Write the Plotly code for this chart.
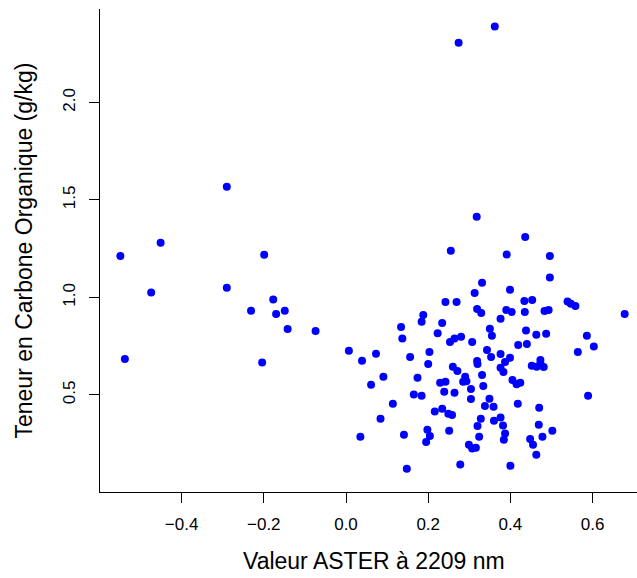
import plotly.graph_objects as go

# Values
aster_2209 = [
    -0.290, -0.451, -0.549, -0.199, -0.474, -0.290, -0.177, -0.231, -0.149, -0.170,
    -0.142, -0.074, -0.538, -0.204, 0.007,
    0.362, 0.274,
    0.318, 0.436, 0.255, 0.391, 0.496, 0.496, 0.331, 0.399, 0.313, 0.242,
    0.269, 0.434, 0.453, 0.539, 0.547, 0.558, 0.678, 0.319, 0.329, 0.390,
    0.403, 0.435, 0.483, 0.493, 0.188, 0.184, 0.234, 0.134, 0.376, 0.350,
    0.355, 0.223, 0.438, 0.463, 0.487, 0.586, 0.137,
    0.039, 0.073, 0.253, 0.264, 0.280, 0.307, 0.419, 0.440, 0.603, 0.564,
    0.156, 0.203, 0.200, 0.343, 0.353, 0.376, 0.399, 0.387, 0.319, 0.320,
    0.376, 0.383, 0.260, 0.271, 0.290, 0.285, 0.293, 0.331, 0.334, 0.304,
    0.304, 0.452, 0.464, 0.473, 0.473, 0.481, 0.405, 0.415, 0.424, 0.091,
    0.061, 0.174, 0.229, 0.242, 0.239, 0.264, 0.165, 0.184, 0.114, 0.349,
    0.338, 0.359, 0.418, 0.470, 0.589, 0.216, 0.234, 0.249, 0.258, 0.084,
    0.328, 0.320, 0.360, 0.376, 0.382, 0.387, 0.384, 0.469, 0.502, 0.478,
    0.448, 0.455, 0.463, 0.035, 0.141, 0.198, 0.204, 0.195, 0.251, 0.324,
    0.299, 0.307, 0.316, 0.278, 0.400, 0.148,
]
carbone_org = [
    1.568, 1.281, 1.213, 1.219, 1.025, 1.050, 0.989, 0.932, 0.932, 0.915,
    0.838, 0.828, 0.685, 0.666, 0.727,
    2.389, 2.306,
    1.414, 1.310, 1.240, 1.220, 1.213, 1.102, 1.076, 1.040, 1.023, 0.977,
    0.977, 0.982, 0.987, 0.979, 0.968, 0.956, 0.915, 0.941, 0.920, 0.936,
    0.926, 0.926, 0.931, 0.936, 0.910, 0.876, 0.869, 0.849, 0.891, 0.840,
    0.804, 0.816, 0.830, 0.809, 0.814, 0.804, 0.790,
    0.676, 0.712, 0.772, 0.789, 0.799, 0.772, 0.756, 0.762, 0.748, 0.720,
    0.695, 0.720, 0.659, 0.731, 0.695, 0.710, 0.691, 0.669, 0.674, 0.659,
    0.640, 0.618, 0.645, 0.623, 0.594, 0.568, 0.570, 0.603, 0.546, 0.531,
    0.479, 0.650, 0.645, 0.679, 0.662, 0.644, 0.577, 0.555, 0.563, 0.594,
    0.553, 0.589, 0.563, 0.568, 0.517, 0.512, 0.502, 0.496, 0.455, 0.481,
    0.444, 0.440, 0.455, 0.435, 0.496, 0.415, 0.430, 0.404, 0.397, 0.378,
    0.378, 0.341, 0.368, 0.384, 0.343, 0.302, 0.271, 0.348, 0.317, 0.286,
    0.274, 0.245, 0.194, 0.286, 0.296, 0.322, 0.290, 0.259, 0.317, 0.286,
    0.245, 0.225, 0.230, 0.143, 0.137, 0.122,
]

x_ticks = [-0.4, -0.2, 0.0, 0.2, 0.4, 0.6]
x_tick_labels = ["\u22120.4", "\u22120.2", "0.0", "0.2", "0.4", "0.6"]
y_ticks = [0.5, 1.0, 1.5, 2.0]
y_tick_labels = ["0.5", "1.0", "1.5", "2.0"]
x_title = "Valeur ASTER à 2209 nm"
y_title = "Teneur en Carbone Organique (g/kg)"

FONT = "Liberation Sans, Arial, Helvetica, sans-serif"

fig = go.Figure()
fig.add_trace(go.Scatter(
    x=aster_2209, y=carbone_org, mode="markers",
    marker=dict(color="#0000FF", size=8, line=dict(width=0)),
    showlegend=False, hoverinfo="x+y",
))

fig.update_layout(
    width=637, height=578,
    margin=dict(l=100, r=0, t=9, b=86, autoexpand=False),
    paper_bgcolor="white", plot_bgcolor="white",
    font=dict(family=FONT, color="black"),
    xaxis=dict(
        range=[-0.5985, 0.708], tickvals=x_ticks, ticktext=x_tick_labels,
        showgrid=False, zeroline=False, showline=True, linecolor="black", linewidth=1,
        ticks="outside", ticklen=10, tickwidth=1, tickcolor="black",
        tickfont=dict(size=17, family=FONT, color="black"),
        ticklabelstandoff=7,
    ),
    yaxis=dict(
        range=[0.0026, 2.479], tickvals=y_ticks, ticktext=y_tick_labels,
        showgrid=False, zeroline=False, showline=True, linecolor="black", linewidth=1,
        ticks="outside", ticklen=10, tickwidth=1, tickcolor="black",
        tickfont=dict(size=17, family=FONT, color="black"), tickangle=-90,
        ticklabelstandoff=7,
    ),
    annotations=[
        dict(text=x_title, xref="paper", yref="paper", x=0.510, y=0,
             xanchor="center", yanchor="middle", yshift=-69, showarrow=False,
             font=dict(size=23, family=FONT, color="black")),
        dict(text=y_title, xref="paper", yref="paper", x=0, y=0.5,
             xanchor="center", yanchor="middle", xshift=-77, textangle=-90,
             showarrow=False, font=dict(size=23, family=FONT, color="black")),
    ],
)

fig.write_html("out.html")
